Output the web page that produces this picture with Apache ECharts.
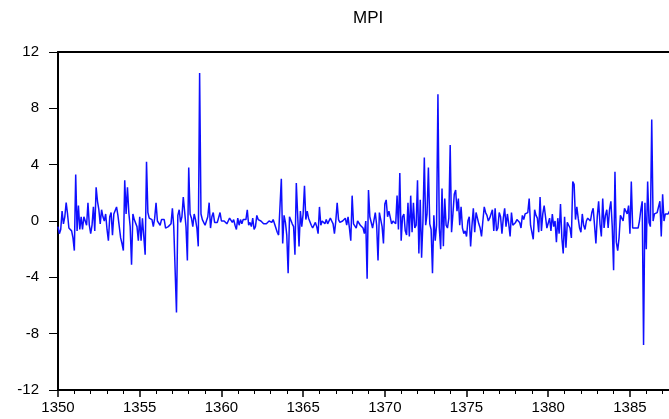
<!DOCTYPE html>
<html>
<head>
<meta charset="utf-8">
<script src="https://cdn.jsdelivr.net/npm/echarts@6/dist/echarts.min.js"></script>
<style>
html,body{margin:0;padding:0;background:#fff;}
#chart{width:669px;height:419px;}
</style>
</head>
<body>
<div id="chart"></div>
<script>
// Monthly MPI values, start year 1350, one block per five years
var startYear = 1350;
var mpi1350 = [-0.4,-0.9,-0.6,0.7,-0.2,0.3,1.3,0.5,-0.5,-0.4,-0.7,-1.2,
  -2.1,3.3,-0.7,1.1,-0.6,0.3,-0.6,0.3,0.4,-0.3,1.3,-0.3,
  -0.9,-0.3,1.0,-0.7,2.4,1.4,0.8,-0.2,0.8,0.3,0.0,0.5,
  -0.6,-1.4,0.3,0.6,-1.0,0.5,0.6,1.0,0.4,0.3,-1.2,-1.6,
  -2.1,2.9,0.5,2.4,0.6,-0.4,-3.1,0.5,0.1,0.2,-0.4,-1.4];
var mpi1355 = [0.3,-1.4,0.2,0.1,-2.4,4.2,0.6,0.2,0.2,0.1,-0.4,0.2,
  1.3,0.0,0.1,-0.3,0.1,0.1,0.1,-0.5,-0.5,-0.4,-0.3,-0.2,
  0.9,-0.4,-0.3,-6.5,0.4,0.8,-0.1,0.3,1.7,1.7,-0.4,-2.8,
  3.8,0.5,0.2,-0.4,0.5,0.1,-0.5,-1.8,10.5,0.5,0.1,0.1,
  -0.3,0.0,0.3,1.3,-0.5,0.3,0.6,-0.1,0.0,-0.1,-0.1,0.6];
var mpi1360 = [0.0,-0.1,0.0,-0.1,-0.2,0.0,0.2,0.1,-0.1,0.1,-0.3,-0.6,
  0.2,-0.3,0.1,-0.2,0.1,0.0,0.1,0.8,-0.3,-0.1,-0.4,0.2,
  -0.6,-0.4,0.4,0.1,0.1,0.0,-0.1,-0.2,-0.2,-0.2,-0.1,0.0,
  0.1,-0.1,0.1,-0.2,-0.5,-0.8,-1.0,-1.1,3.0,-1.6,0.4,-0.1,
  -1.0,-3.7,0.3,0.3,-0.2,-0.4,-2.4,2.7,0.4,-1.8,0.7,-0.4];
var mpi1365 = [0.5,2.5,0.1,0.7,0.2,0.2,-0.3,-0.5,-0.5,-0.1,-0.4,-0.9,
  1.0,-0.3,0.0,0.1,-0.2,0.1,-0.2,-0.1,0.2,0.0,-0.2,-0.9,
  0.0,1.3,0.1,-0.1,-0.1,0.0,-0.1,0.2,-0.3,0.3,-0.5,-1.4,
  1.8,-0.2,-0.2,-0.5,0.0,-0.1,-0.3,-0.3,-0.5,-0.9,0.0,-4.1,
  2.2,0.3,0.4,-0.5,-0.6,0.6,-0.3,-2.8,0.6,0.6,-0.4,-1.6];
var mpi1370 = [1.2,1.5,0.3,0.7,0.6,-0.2,0.0,0.0,-0.2,1.8,-0.6,3.4,
  -1.4,0.3,0.5,-0.7,-1.0,1.3,-1.1,1.8,-0.8,1.3,-0.5,-0.3,
  2.9,-2.3,1.5,-2.6,0.0,4.5,-0.3,0.5,3.8,-0.2,-0.6,-3.7,
  0.4,-1.4,-0.3,9.0,-0.5,-2.0,2.3,-1.8,1.6,-0.3,-0.5,0.2,
  5.4,-0.8,0.5,1.9,2.2,0.7,1.6,-0.3,1.0,-0.5,-0.9,-0.7];
var mpi1375 = [-1.1,0.0,0.3,-1.8,-0.3,0.9,-0.8,0.6,0.5,-0.2,-0.5,-1.1,
  0.0,1.0,0.6,0.4,0.0,0.2,0.5,0.8,-0.7,0.9,-0.7,-0.5,
  0.6,0.3,-0.9,0.2,0.9,-0.4,0.5,-0.2,-1.1,0.6,-0.3,-0.2,
  -0.1,0.1,0.2,-0.1,-0.5,0.4,0.1,0.5,0.4,0.6,1.6,-0.3,
  -0.3,-1.3,0.8,0.4,0.2,-0.8,1.7,-0.7,0.5,1.1,0.3,-0.5];
var mpi1380 = [-0.6,0.2,-0.7,0.5,-0.4,0.0,-1.5,0.2,-0.9,1.2,-1.2,-2.3,
  0.3,-1.9,-0.1,-0.3,-0.5,-1.2,2.8,2.6,0.1,1.0,0.2,-0.5,
  -0.8,0.5,-0.3,-0.6,0.0,0.2,0.2,0.0,0.6,0.9,-0.3,-1.6,
  0.3,1.4,-0.2,-1.1,1.6,-0.5,0.4,0.8,-0.5,0.8,1.4,-0.4,
  -3.5,3.5,-1.5,-2.1,-1.2,0.4,0.3,0.0,0.9,0.8,0.5,1.1];
var mpi1385 = [-0.9,2.8,-0.5,-0.6,-0.5,-0.5,-0.5,0.0,0.8,1.4,-8.8,1.3,
  -2.0,2.8,-0.1,-0.4,7.2,0.0,0.5,0.5,0.6,0.7,1.4,-1.1,
  1.9,0.0,0.5,0.6,0.5,0.7];

var yTicks = [-12,-8,-4,0,4,8,12];
var xLabelYears = [1350,1355,1360,1365,1370,1375,1380,1385];
var xMinorYears = [1351,1352,1353,1354,1356,1357,1358,1359,1361,1362,1363,1364,1366,1367,1368,1369,
  1371,1372,1373,1374,1376,1377,1378,1379,1381,1382,1383,1384,1386,1387];

var values = [].concat(mpi1350, mpi1355, mpi1360, mpi1365, mpi1370, mpi1375, mpi1380, mpi1385);
var seriesData = values.map(function (v, i) { return [startYear + i / 12, v]; });

var chart = echarts.init(document.getElementById('chart'), null, {renderer: 'canvas'});
var fontFam = 'Liberation Sans, Arial, sans-serif';
var xMin = 1350, xMax = 1387.39;
chart.setOption({
  animation: false,
  backgroundColor: '#fff',
  title: {
    text: 'MPI',
    left: 348,
    top: 5,
    textStyle: {fontFamily: fontFam, fontSize: 17, fontWeight: 'normal', color: '#000'}
  },
  grid: {left: 58, right: 0, top: 52, bottom: 29, show: false},
  xAxis: [{
    type: 'value',
    min: xMin, max: xMax,
    axisLine: {show: true, onZero: false, lineStyle: {color: '#000', width: 2}},
    axisTick: {show: true, inside: false, length: 4, lineStyle: {color: '#000', width: 1},
      customValues: xMinorYears},
    axisLabel: {show: false},
    splitLine: {show: false}
  }, {
    type: 'value',
    position: 'bottom',
    min: xMin, max: xMax,
    axisLine: {show: false, onZero: false},
    axisTick: {show: true, inside: false, length: 7, lineStyle: {color: '#000', width: 1.5},
      customValues: xLabelYears},
    axisLabel: {show: true, margin: 10, color: '#000', fontFamily: fontFam, fontSize: 15,
      customValues: xLabelYears,
      formatter: function (v) { return String(Math.round(v)); }},
    splitLine: {show: false}
  }, {
    type: 'value',
    position: 'top',
    min: xMin, max: xMax,
    axisLine: {show: true, onZero: false, lineStyle: {color: '#000', width: 2}},
    axisTick: {show: false},
    axisLabel: {show: false},
    splitLine: {show: false}
  }],
  yAxis: {
    type: 'value',
    min: -12, max: 12, interval: 4,
    axisLine: {show: true, onZero: false, lineStyle: {color: '#000', width: 2}},
    axisTick: {show: true, inside: false, length: 9, lineStyle: {color: '#000', width: 1},
      customValues: yTicks},
    axisLabel: {margin: 19, color: '#000', fontFamily: fontFam, fontSize: 15,
      customValues: yTicks,
      formatter: function (v) { return String(v); }},
    splitLine: {show: false}
  },
  series: [{
    type: 'line',
    xAxisIndex: 0,
    data: seriesData,
    showSymbol: false,
    symbol: 'none',
    clip: true,
    lineStyle: {color: '#0f0fff', width: 1.5},
    emphasis: {disabled: true}
  }]
});
</script>
</body>
</html>
